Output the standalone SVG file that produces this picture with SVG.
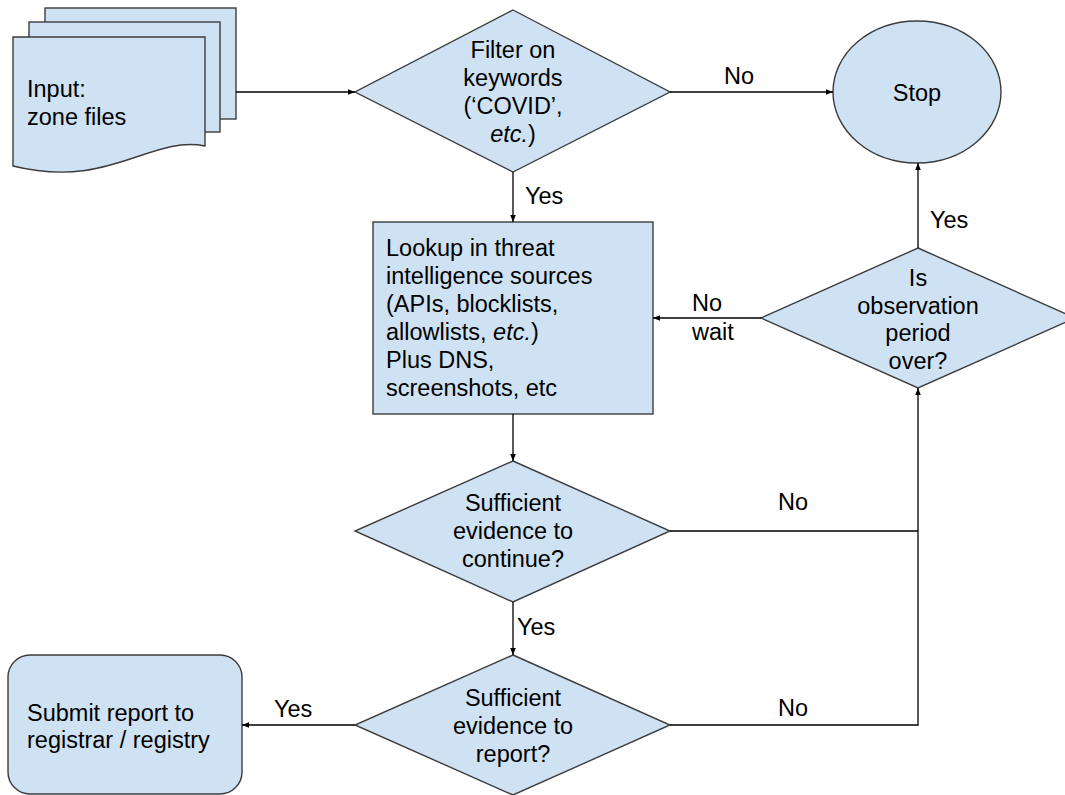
<svg xmlns="http://www.w3.org/2000/svg" width="1065" height="795" viewBox="0 0 1065 795">
<defs>
<marker id="arr" viewBox="0 0 10 10" refX="10" refY="5" markerWidth="7" markerHeight="7" markerUnits="userSpaceOnUse" orient="auto">
<path d="M0,1 L10,5 L0,9 Z" fill="#000"/>
</marker>
</defs>
<style>
.shape{fill:#cfe2f3;stroke:#3c3c3c;stroke-width:1.4}
.t{font-family:"Liberation Sans",Arial,sans-serif;font-size:23.5px;fill:#000}
.c{text-anchor:middle}
.conn{fill:none;stroke:#000;stroke-width:1.3}
.lbl{font-family:"Liberation Sans",Arial,sans-serif;font-size:23.5px;fill:#000}
</style>
<rect width="1065" height="795" fill="#fff"/>
<g id="input">
<rect class="shape" x="45" y="8" width="191" height="111"/>
<rect class="shape" x="29" y="22" width="191" height="110"/>
<path class="shape" d="M13,37 H205 V146 C150,135 110,190 13,166 Z"/>
<text class="t" x="27" y="97">Input:</text>
<text class="t" x="27" y="125">zone files</text>
</g>
<g id="filter">
<polygon class="shape" points="513,10 670,92 513,172 355,92"/>
<text class="t c" x="513" y="58">Filter on</text>
<text class="t c" x="513" y="86">keywords</text>
<text class="t c" x="513" y="114">(‘COVID’,</text>
<text class="t c" x="513" y="142"><tspan font-style="italic">etc.</tspan>)</text>
</g>
<g id="stop">
<ellipse class="shape" cx="917" cy="92" rx="84" ry="71"/>
<text class="t c" x="917" y="101">Stop</text>
</g>
<g id="lookup">
<rect class="shape" x="373" y="222" width="280" height="192"/>
<text class="t" x="386" y="256">Lookup in threat</text>
<text class="t" x="386" y="284">intelligence sources</text>
<text class="t" x="386" y="312">(APIs, blocklists,</text>
<text class="t" x="386" y="340">allowlists, <tspan font-style="italic">etc.</tspan>)</text>
<text class="t" x="386" y="368">Plus DNS,</text>
<text class="t" x="386" y="396">screenshots, etc</text>
</g>
<g id="observation">
<polygon class="shape" points="918,248 1075,318 918,388 761,318"/>
<text class="t c" x="918" y="286">Is</text>
<text class="t c" x="918" y="314">observation</text>
<text class="t c" x="918" y="341">period</text>
<text class="t c" x="918" y="369">over?</text>
</g>
<g id="continue">
<polygon class="shape" points="513,461 670,531 513,602 355,531"/>
<text class="t c" x="513" y="511">Sufficient</text>
<text class="t c" x="513" y="539">evidence to</text>
<text class="t c" x="513" y="567">continue?</text>
</g>
<g id="report">
<polygon class="shape" points="513,655 670,725 513,795 355,725"/>
<text class="t c" x="513" y="706">Sufficient</text>
<text class="t c" x="513" y="734">evidence to</text>
<text class="t c" x="513" y="762">report?</text>
</g>
<g id="submit">
<rect class="shape" x="8" y="655" width="234" height="139" rx="22" ry="22"/>
<text class="t" x="27" y="721">Submit report to</text>
<text class="t" x="27" y="748">registrar / registry</text>
</g>
<g id="connectors">
<line class="conn" x1="236" y1="92" x2="355" y2="92" marker-end="url(#arr)"/>
<line class="conn" x1="670" y1="92" x2="833" y2="92" marker-end="url(#arr)"/>
<line class="conn" x1="513" y1="172" x2="513" y2="222" marker-end="url(#arr)"/>
<line class="conn" x1="918" y1="248" x2="918" y2="163" marker-end="url(#arr)"/>
<line class="conn" x1="761" y1="318" x2="653" y2="318" marker-end="url(#arr)"/>
<line class="conn" x1="513" y1="414" x2="513" y2="461" marker-end="url(#arr)"/>
<line class="conn" x1="670" y1="531" x2="918" y2="531"/>
<line class="conn" x1="513" y1="602" x2="513" y2="655" marker-end="url(#arr)"/>
<polyline class="conn" points="670,725 918,725 918,388" marker-end="url(#arr)"/>
<line class="conn" x1="355" y1="725" x2="242" y2="725" marker-end="url(#arr)"/>
<text class="lbl" x="724" y="84">No</text>
<text class="lbl" x="525" y="204">Yes</text>
<text class="lbl" x="930" y="228">Yes</text>
<text class="lbl" x="692" y="311">No</text>
<text class="lbl" x="692" y="340">wait</text>
<text class="lbl" x="778" y="510">No</text>
<text class="lbl" x="517" y="635">Yes</text>
<text class="lbl" x="778" y="716">No</text>
<text class="lbl" x="274" y="717">Yes</text>
</g>
</svg>
